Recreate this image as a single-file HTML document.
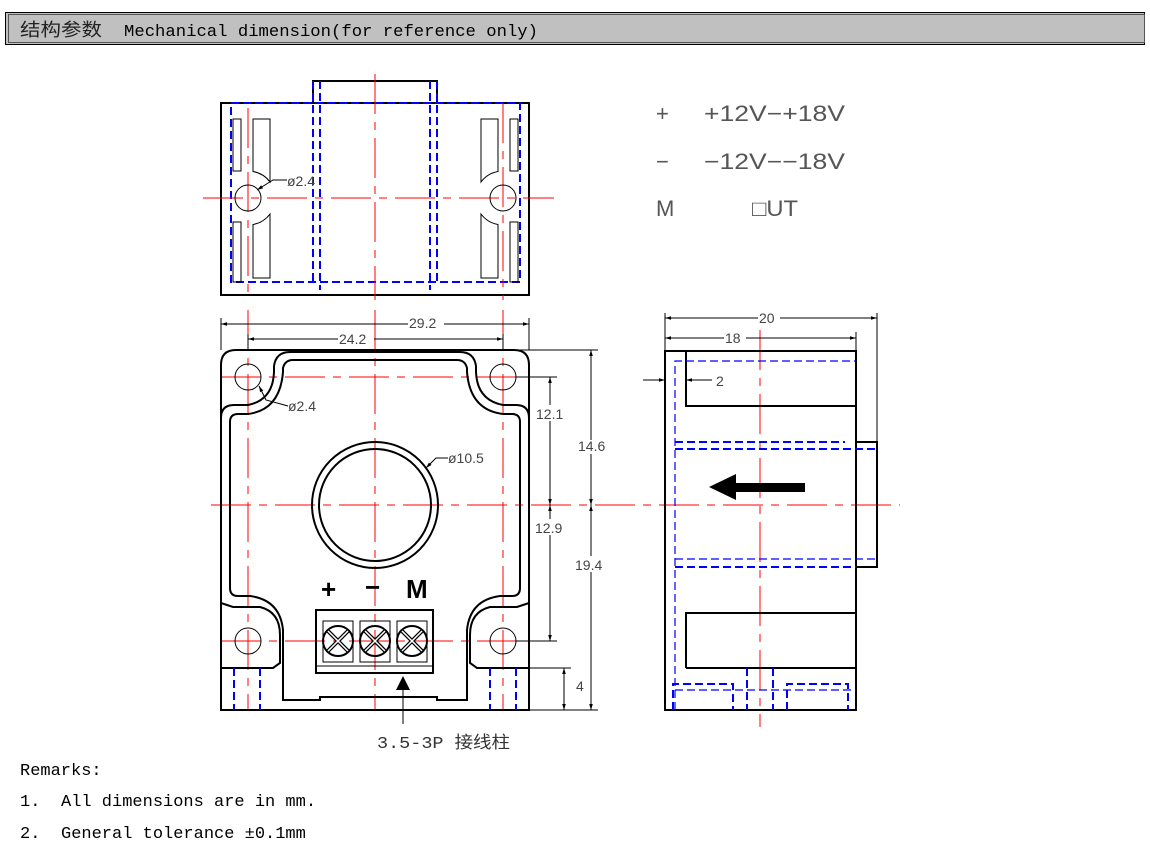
<!DOCTYPE html>
<html><head><meta charset="utf-8"><style>
body{margin:0;background:#fff;width:1150px;height:854px;overflow:hidden}
svg{display:block}
text{white-space:pre}
.k{fill:none;stroke:#000;stroke-width:2}
.t{fill:none;stroke:#000;stroke-width:1}
.rd{stroke:#f00;stroke-width:1;fill:none;stroke-dasharray:40 8 8 8}
.b{stroke:#00f;stroke-width:2;fill:none;stroke-dasharray:8 4}
.b1{stroke:#00f;stroke-width:1.2;fill:none;stroke-dasharray:8 4}
.dim{font-family:"Liberation Sans",sans-serif;font-size:14px;fill:#444}
.m{font-family:"Liberation Mono","Noto Sans CJK SC",monospace}
</style></head><body>
<svg width="1150" height="854" viewBox="0 0 1150 854">
<defs>
<marker id="a" viewBox="0 0 10 10" refX="10" refY="5" markerWidth="8" markerHeight="6" orient="auto-start-reverse"><path d="M0,2 L10,5 L0,8 Z" fill="#000"/></marker>
</defs>
<!-- header -->
<rect x="5.5" y="12.5" width="1139" height="32" fill="#c0c0c0" stroke="#000" stroke-width="1"/>
<rect x="8.5" y="14.5" width="1136" height="28" fill="none" stroke="#555" stroke-width="1"/>
<text x="20" y="36" font-family="Noto Sans CJK SC,sans-serif" font-size="18" fill="#222" textLength="82" lengthAdjust="spacingAndGlyphs">结构参数</text>
<text x="124" y="36" class="m" font-size="17" fill="#000" textLength="414" lengthAdjust="spacingAndGlyphs">Mechanical dimension(for reference only)</text>

<!-- TOP VIEW -->
<rect x="221" y="103" width="308" height="192" class="k"/>
<path d="M313,103 L313,81 L437,81 L437,103" class="k"/>
<rect x="231" y="103" width="289" height="179" class="b"/>
<path d="M313,81 L313,282 M320,81 L320,290 M430,81 L430,290 M437,81 L437,282" class="b"/>
<line x1="375" y1="74" x2="375" y2="300" class="rd"/>
<line x1="203" y1="198" x2="554" y2="198" class="rd"/>
<line x1="248" y1="108" x2="248" y2="300" class="rd"/>
<line x1="503" y1="103" x2="503" y2="300" class="rd"/>
<circle cx="248" cy="198" r="13" class="t" stroke-width="1.5"/>
<circle cx="503" cy="198" r="13" class="t" stroke-width="1.5"/>
<g class="t" stroke-width="1.5">
<rect x="233" y="119" width="8" height="52"/><rect x="233" y="222" width="8" height="60"/>
<path d="M253,119 L270,119 L270,182 A27,27 0 0 0 253,171.5 Z"/><path d="M253,224.5 A27,27 0 0 0 270,214 L270,278 L253,278 Z"/>
<rect x="510" y="119" width="8" height="52"/><rect x="510" y="222" width="8" height="60"/>
<path d="M498,119 L481,119 L481,182 A27,27 0 0 1 498,171.5 Z"/><path d="M498,224.5 A27,27 0 0 1 481,214 L481,278 L498,278 Z"/>
</g>
<path d="M257,190 L273,180 L287,180" class="t" marker-start="url(#a)"/>
<text x="287" y="186" class="dim">ø2.4</text>

<!-- voltage text -->
<g font-family="Liberation Sans,sans-serif" font-size="22" fill="#555">
<text x="656" y="121">+</text><text x="704" y="121" textLength="141" lengthAdjust="spacingAndGlyphs">+12V−+18V</text>
<text x="656" y="169">−</text><text x="704" y="169" textLength="141" lengthAdjust="spacingAndGlyphs">−12V−−18V</text>
<text x="656" y="216">M</text><text x="752" y="216" textLength="46" lengthAdjust="spacingAndGlyphs">□UT</text>
</g>

<!-- FRONT VIEW -->
<line x1="211" y1="505" x2="900" y2="505" class="rd"/>
<line x1="248" y1="310" x2="248" y2="710" class="rd"/>
<line x1="375" y1="310" x2="375" y2="710" class="rd"/>
<line x1="503" y1="310" x2="503" y2="710" class="rd"/>
<line x1="221" y1="377" x2="530" y2="377" class="rd"/>
<line x1="221" y1="641" x2="530" y2="641" class="rd"/>
<path d="M236,350 L514,350 Q529,350 529,365 L529,710 L221,710 L221,365 Q221,350 236,350 Z" class="k"/>
<path d="M221,418 Q221,405 234,405 L248,405 Q273,400 274,372 L274,366 Q276,352 290,352 L460,352 Q474,352 476,366 L476,372 Q477,400 503,405 L516,405 Q529,405 529,418 M529,603 L517,607 L490,607 Q470,612 470,635 L470,663 L477,668 L529,668 M221,603 L233,607 L260,607 Q280,612 280,635 L280,663 L273,668 L221,668" class="k" stroke-width="1.5"/>
<path d="M230,422 Q230,414 238,414 L248,414 Q280,410 283,372 L283,368 Q285,360 293,360 L457,360 Q465,360 467,368 L467,372 Q470,410 503,414 L512,414 Q520,414 520,422 L520,588 Q520,596 512,596 L500,596 Q470,600 467,630 L467,700 L437,700 L437,697 L320,697 L320,700 L283,700 L283,630 Q280,600 250,596 L238,596 Q230,596 230,588 Z" class="k" stroke-width="1.5"/>
<circle cx="375" cy="505" r="63" class="k"/>
<circle cx="375" cy="505" r="56" class="k" stroke-width="1.5"/>
<circle cx="248" cy="377" r="13" class="t" stroke-width="1.5"/><circle cx="503" cy="377" r="13" class="t" stroke-width="1.5"/>
<circle cx="248" cy="641" r="13" class="t" stroke-width="1.5"/><circle cx="503" cy="641" r="13" class="t" stroke-width="1.5"/>
<path d="M234,668 L234,710 M260,668 L260,710 M490,668 L490,710 M516,668 L516,710" class="b"/>
<!-- terminal -->
<rect x="316" y="610" width="117" height="63" class="k"/>
<line x1="316" y1="666" x2="433" y2="666" class="t"/>
<g class="t" stroke-width="1.5">
<rect x="323" y="621" width="30" height="41"/><rect x="360" y="621" width="30" height="41"/><rect x="397" y="621" width="30" height="41"/>
<circle cx="338" cy="641" r="15" stroke-width="2"/><circle cx="375" cy="641" r="15" stroke-width="2"/><circle cx="412" cy="641" r="15" stroke-width="2"/>
<path d="M328,631 L348,651 M348,631 L328,651 M365,631 L385,651 M385,631 L365,651 M402,631 L422,651 M422,631 L402,651" stroke-width="4"/>
<path d="M328,631 L348,651 M348,631 L328,651 M365,631 L385,651 M385,631 L365,651 M402,631 L422,651 M422,631 L402,651" stroke="#fff" stroke-width="1.5"/>
</g>
<g font-family="Liberation Sans,sans-serif" font-weight="bold" font-size="26" fill="#000">
<text x="321" y="598">+</text><text x="365" y="596">−</text><text x="406" y="598">M</text>
</g>
<path d="M403,724 L403,680" class="t" stroke-width="1.5"/>
<path d="M403,676 L396,690 L410,690 Z" fill="#000"/>
<text x="377" y="748" class="m" font-size="17" fill="#333" textLength="133" lengthAdjust="spacingAndGlyphs">3.5-3P 接线柱</text>
<path d="M259,386 L266,400 L288,406" class="t" marker-start="url(#a)"/>
<text x="288" y="411" class="dim">ø2.4</text>
<path d="M426,468 L436,458 L448,458" class="t" marker-start="url(#a)"/>
<text x="448" y="463" class="dim">ø10.5</text>
<!-- dims -->
<path d="M221,318 L221,350 M529,318 L529,350 M248,334 L248,350 M503,334 L503,350" class="t"/>
<line x1="221" y1="324" x2="529" y2="324" class="t" marker-start="url(#a)" marker-end="url(#a)"/>
<line x1="248" y1="339" x2="503" y2="339" class="t" marker-start="url(#a)" marker-end="url(#a)"/>
<rect x="408" y="315" width="36" height="14" fill="#fff"/><text x="409" y="328" class="dim">29.2</text>
<rect x="338" y="331" width="36" height="14" fill="#fff"/><text x="339" y="344" class="dim">24.2</text>
<path d="M517,350 L598,350 M516,377 L557,377 M516,641 L557,641 M529,668 L571,668 M529,710 L598,710" class="t"/>
<line x1="550" y1="377" x2="550" y2="505" class="t" marker-start="url(#a)" marker-end="url(#a)"/>
<line x1="550" y1="505" x2="550" y2="641" class="t" marker-start="url(#a)" marker-end="url(#a)"/>
<line x1="591" y1="350" x2="591" y2="505" class="t" marker-start="url(#a)" marker-end="url(#a)"/>
<line x1="591" y1="505" x2="591" y2="710" class="t" marker-start="url(#a)" marker-end="url(#a)"/>
<line x1="564" y1="668" x2="564" y2="710" class="t" marker-start="url(#a)" marker-end="url(#a)"/>
<rect x="536" y="405" width="30" height="16" fill="#fff"/><text x="536" y="419" class="dim">12.1</text>
<rect x="536" y="519" width="30" height="16" fill="#fff"/><text x="535" y="533" class="dim">12.9</text>
<rect x="576" y="440" width="30" height="14" fill="#fff"/><text x="578" y="451" class="dim" font-size="12">14.6</text>
<rect x="575" y="556" width="32" height="16" fill="#fff"/><text x="575" y="570" class="dim">19.4</text>
<text x="576" y="691" class="dim">4</text>

<!-- SIDE VIEW -->
<line x1="760" y1="330" x2="760" y2="727" class="rd"/>
<rect x="665" y="351" width="191" height="359" class="k"/>
<rect x="856" y="442" width="21" height="125" class="k" stroke-width="1.5"/>
<path d="M686,351 L686,406 L856,406 M686,668 L686,613 L856,613 L856,668 L686,668" class="k" stroke-width="1.5"/>
<path d="M675,710 L675,361 L856,361" class="b1"/>
<path d="M675,442 L845,442 M675,449 L877,449 M675,567 L856,567" class="b"/>
<path d="M675,559 L877,559" class="b1"/>
<path d="M673,710 L673,684 L733,684 L733,710 M787,710 L787,684 L848,684 L848,710 M747,668 L747,710 M773,668 L773,710" class="b"/>
<path d="M675,690 L856,690" class="b1"/>
<path d="M709,487 L736,474 L736,483 L805,483 L805,492 L736,492 L736,500 Z" fill="#000"/>
<path d="M665,313 L665,351 M856,332 L856,351 M877,313 L877,442" class="t"/>
<line x1="665" y1="318" x2="877" y2="318" class="t" marker-start="url(#a)" marker-end="url(#a)"/>
<line x1="665" y1="338" x2="856" y2="338" class="t" marker-start="url(#a)" marker-end="url(#a)"/>
<rect x="758" y="310" width="22" height="16" fill="#fff"/><text x="759" y="323" class="dim">20</text>
<rect x="724" y="330" width="22" height="16" fill="#fff"/><text x="725" y="343" class="dim">18</text>
<line x1="643" y1="380" x2="665" y2="380" class="t" marker-end="url(#a)"/>
<line x1="712" y1="380" x2="686" y2="380" class="t" marker-end="url(#a)"/>
<text x="716" y="386" class="dim">2</text>

<!-- remarks -->
<g class="m" font-size="17" fill="#000">
<text x="20" y="775">Remarks:</text>
<text x="20" y="806">1.</text><text x="61" y="806">All dimensions are in mm.</text>
<text x="20" y="838">2.</text><text x="61" y="838">General tolerance ±0.1mm</text>
</g>
</svg>
</body></html>
